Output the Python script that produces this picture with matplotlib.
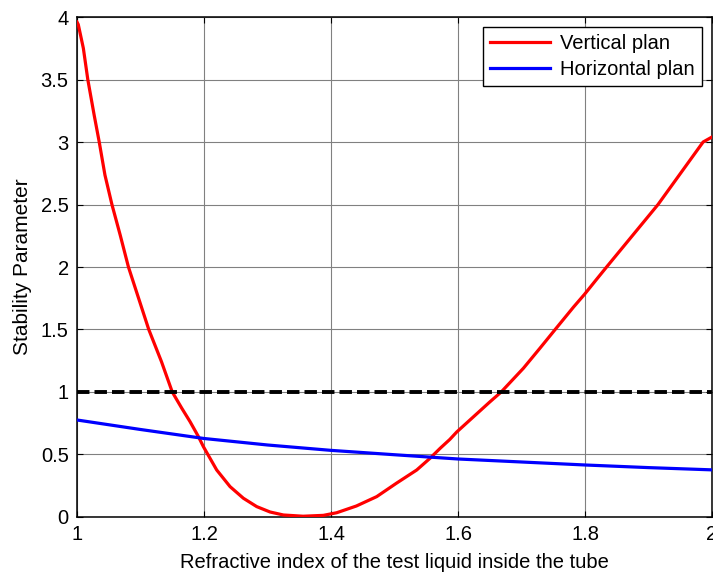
import matplotlib
matplotlib.use("Agg")
import matplotlib.pyplot as plt

plt.rcParams['font.family'] = ['Liberation Sans', 'DejaVu Sans']

# Data
vert_x = [1.000, 1.002, 1.010, 1.017, 1.027, 1.035, 1.044, 1.055, 1.068, 1.081,
          1.097, 1.113, 1.133, 1.150, 1.165, 1.178, 1.191, 1.199, 1.220, 1.241,
          1.262, 1.283, 1.304, 1.325, 1.356, 1.388, 1.409, 1.440, 1.472, 1.503,
          1.535, 1.556, 1.572, 1.587, 1.598, 1.624, 1.650, 1.668, 1.703, 1.729,
          1.753, 1.782, 1.799, 1.818, 1.834, 1.915, 1.986, 2.000]
vert_y = [3.96, 3.94, 3.75, 3.50, 3.216, 3.00, 2.736, 2.50, 2.256, 2.00,
          1.75, 1.50, 1.243, 1.00, 0.87, 0.763, 0.645, 0.563, 0.376, 0.243,
          0.15, 0.083, 0.04, 0.016, 0.006, 0.013, 0.034, 0.088, 0.163, 0.27,
          0.376, 0.47, 0.55, 0.62, 0.68, 0.80, 0.92, 1.00, 1.19, 1.35,
          1.50, 1.68, 1.78, 1.90, 2.00, 2.50, 3.00, 3.04]

horiz_x = [1.0, 1.1, 1.2, 1.3, 1.4, 1.5, 1.6, 1.7, 1.8, 1.9, 2.0]
horiz_y = [0.776, 0.700, 0.628, 0.576, 0.533, 0.498, 0.464,
           0.440, 0.416, 0.395, 0.377]

thresh_x = [1.0, 2.0]
thresh_y = [1.0, 1.0]

xticks = [1.0, 1.2, 1.4, 1.6, 1.8, 2.0]
xticklabels = ['1', '1.2', '1.4', '1.6', '1.8', '2']
yticks = [0, 0.5, 1, 1.5, 2, 2.5, 3, 3.5, 4]
yticklabels = ['0', '0.5', '1', '1.5', '2', '2.5', '3', '3.5', '4']

fig = plt.figure(figsize=(7.13, 5.75), dpi=100)
ax = fig.add_axes([0.108, 0.1009, 0.8906, 0.8695])

ax.plot(vert_x, vert_y, color='#ff0000', lw=2.3, label='Vertical plan', zorder=3)
ax.plot(horiz_x, horiz_y, color='#0000ff', lw=2.3, label='Horizontal plan', zorder=3)
ax.plot(thresh_x, thresh_y, color='black', lw=2.8, linestyle=(0, (3.2, 1.3)), zorder=4)

ax.set_xlim(1, 2)
ax.set_ylim(0, 4)
ax.set_xticks(xticks)
ax.set_xticklabels(xticklabels)
ax.set_yticks(yticks)
ax.set_yticklabels(yticklabels)

ax.grid(True, color='#808080', linestyle='-', linewidth=0.8, zorder=0)
ax.set_axisbelow(True)
ax.tick_params(direction='in', length=4, width=0.8, top=True, right=True,
               labelsize=14.5, pad=6)
for s in ax.spines.values():
    s.set_color('black')
    s.set_linewidth(1.1)

ax.set_xlabel('Refractive index of the test liquid inside the tube', fontsize=14.5, labelpad=6)
ax.set_ylabel('Stability Parameter', fontsize=15, labelpad=6)

leg = ax.legend(loc='upper right', fontsize=14.5, fancybox=False, framealpha=1,
                edgecolor='black', handlelength=3.0, borderaxespad=0.5,
                borderpad=0.35, labelspacing=0.35, handletextpad=0.5)
leg.get_frame().set_linewidth(1.0)

fig.savefig('out.png', dpi=100)
